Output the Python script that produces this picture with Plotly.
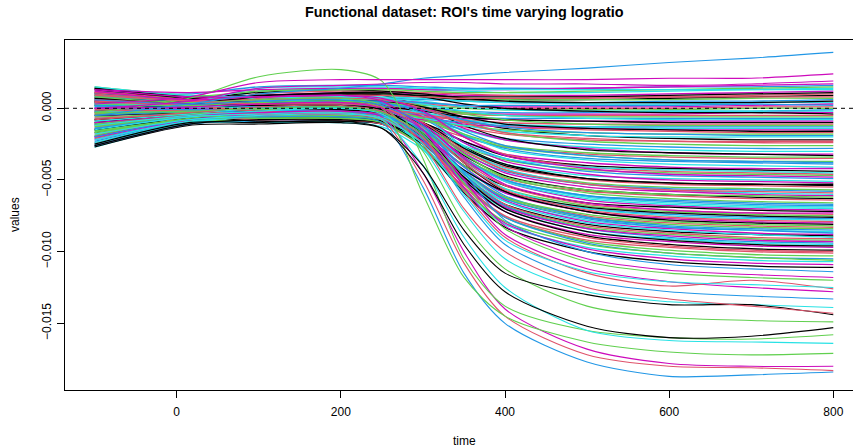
import plotly.graph_objects as go

# ---------------- data (values in units of 1e-4) ----------------
knot_times = [-100, 15, 100, 200, 250, 300, 350, 400, 500, 600, 700, 800]

outlier_curves = [
    [-5, 3, 10, 14, 17, 21, 23, 25, 28, 32, 35, 39],
    [3, 8, 18, 20, 20, 20, 20, 20, 20, 21, 21, 24],
    [0, 5, 14, 16, 17, 18, 18, 17, 17, 16, 17, 19],
]

upper_curves = [
    [12, 10, 15, 16, 16, 15, 14, 14, 14, 15, 15, 16],
    [-5, 2, 12, 14, 14, 13, 12, 11, 11, 12, 13, 14],
    [8, 6, 9, 11, 11, 10, 9, 9, 9, 10, 11, 12],
    [-15, -4, 6, 9, 9, 8, 6, 6, 6, 7, 8, 9],
    [0, 3, 10, 12, 12, 11, 10, 9, 8, 8, 9, 10],
    [15, 9, 8, 10, 10, 9, 7, 6, 6, 6, 7, 7],
    [-20, -6, 4, 7, 7, 6, 5, 4, 4, 5, 5, 6],
    [5, 4, 7, 8, 8, 7, 5, 4, 3, 3, 4, 4],
    [-8, -2, 5, 6, 6, 4, 2, 1, 1, 1, 2, 3],
    [10, 7, 11, 13, 12, 10, 7, 5, 4, 4, 4, 5],
    [-25, -9, 2, 4, 4, 3, 1, 0, 0, 0, 1, 1],
    [3, 2, 3, 4, 4, 2, 0, -1, -1, -1, 0, 0],
    [-12, -5, 1, 3, 3, 1, -2, -3, -3, -2, -2, -1],
    [6, 3, 6, 8, 7, 5, 1, -1, -2, -2, -2, -2],
    [-3, -1, 0, 1, 1, -1, -3, -4, -4, -4, -3, -3],
    [14, 8, 9, 11, 11, 8, 3, 0, -2, -3, -3, -4],
    [-18, -7, -1, 0, 0, -2, -4, -5, -5, -5, -5, -5],
    [2, 1, 2, 3, 2, 0, -3, -5, -6, -6, -6, -6],
    [-7, -4, -3, -2, -2, -4, -6, -7, -7, -7, -7, -7],
    [9, 5, 5, 6, 6, 3, -2, -5, -7, -8, -8, -8],
    [-22, -9, -4, -3, -3, -5, -7, -8, -9, -9, -9, -9],
    [4, 2, 0, 1, 1, -2, -6, -8, -9, -10, -10, -10],
    [-10, -6, -5, -4, -4, -6, -8, -10, -11, -11, -11, -11],
    [7, 4, 3, 5, 4, 1, -4, -8, -11, -12, -12, -12],
    [-14, -8, -6, -5, -5, -7, -10, -12, -13, -13, -13, -13],
    [1, 0, -1, 0, 0, -3, -8, -11, -13, -14, -14, -14],
    [-26, -11, -7, -6, -6, -8, -11, -13, -14, -15, -15, -15],
    [11, 6, 4, 5, 5, 1, -6, -11, -14, -15, -16, -16],
    [-4, -3, -2, -1, -1, -4, -9, -13, -15, -16, -17, -17],
    [-16, -9, -8, -7, -7, -9, -12, -15, -17, -18, -18, -18],
    [6, 3, 2, 3, 3, -1, -8, -13, -17, -18, -19, -19],
    [-9, -6, -5, -4, -4, -7, -12, -16, -19, -20, -20, -20],
    [13, 11, 13, 14, 14, 13, 13, 13, 14, 15, 16, 17],
    [-2, 3, 8, 10, 10, 9, 8, 8, 8, 9, 10, 11],
    [-21, -5, 7, 9, 9, 8, 7, 7, 7, 8, 8, 8],
    [9, 8, 12, 13, 13, 12, 11, 11, 12, 13, 14, 15],
    [-11, -1, 3, 5, 5, 4, 2, 2, 2, 2, 3, 2],
    [2, 4, 14, 15, 15, 14, 13, 13, 13, 13, 13, 13],
]

mid_curves = [
    [5, 3, 5, 6, 5, 0, -8, -14, -19, -21, -22, -22],
    [-13, -6, -3, -2, -3, -6, -13, -18, -22, -23, -24, -24],
    [10, 6, 7, 8, 7, 1, -9, -17, -23, -25, -26, -26],
    [-19, -8, -4, -3, -4, -8, -15, -21, -25, -27, -28, -28],
    [3, 1, 0, 1, 0, -5, -15, -22, -27, -29, -30, -30],
    [-6, -1, 3, 4, 3, -3, -14, -22, -28, -31, -32, -32],
    [14, 8, 9, 10, 9, 1, -12, -21, -29, -31, -32, -33],
    [-24, -10, -6, -5, -6, -11, -20, -27, -32, -34, -35, -35],
    [1, 0, -1, -1, -2, -8, -19, -27, -33, -36, -37, -37],
    [-11, -4, 1, 2, 1, -6, -19, -28, -35, -37, -38, -39],
    [7, 4, 4, 5, 4, -4, -18, -29, -36, -39, -40, -41],
    [-2, -2, -4, -4, -5, -12, -23, -32, -38, -41, -42, -42],
    [-17, -7, -3, -2, -3, -10, -23, -33, -40, -42, -43, -44],
    [12, 7, 6, 7, 5, -4, -20, -32, -41, -44, -45, -46],
    [-8, -5, -6, -6, -7, -14, -27, -36, -43, -45, -46, -47],
    [4, 3, 2, 3, 1, -7, -24, -35, -44, -47, -48, -49],
    [-27, -11, -8, -7, -8, -16, -29, -39, -47, -49, -50, -51],
    [0, 2, 4, 5, 3, -6, -24, -37, -46, -50, -51, -52],
    [9, 5, 1, 1, -1, -10, -27, -39, -49, -52, -53, -54],
    [-14, -6, -3, -3, -5, -13, -30, -41, -50, -53, -54, -55],
    [5, 2, -1, -1, -3, -12, -30, -43, -52, -55, -56, -57],
    [-21, -9, -5, -5, -7, -16, -32, -44, -53, -56, -57, -58],
    [15, 9, 8, 9, 7, -5, -27, -42, -53, -57, -59, -60],
    [-4, -2, 0, 0, -2, -12, -31, -45, -55, -58, -60, -61],
    [2, 0, -3, -3, -5, -15, -33, -47, -57, -60, -62, -63],
    [-9, -5, -8, -8, -10, -19, -36, -49, -58, -61, -63, -64],
    [8, 5, 2, 3, 1, -11, -32, -48, -59, -63, -65, -66],
    [-23, -9, -4, -4, -6, -17, -37, -50, -61, -64, -66, -67],
    [-1, -1, 1, 1, -1, -13, -34, -50, -62, -66, -68, -69],
    [11, 6, 3, 4, 2, -11, -34, -51, -64, -68, -70, -71],
    [-15, -7, -6, -6, -8, -19, -40, -54, -66, -69, -71, -72],
    [6, 3, 0, 0, -2, -15, -37, -54, -67, -71, -73, -74],
    [-6, -4, -5, -5, -7, -19, -40, -56, -68, -72, -74, -75],
    [-26, -11, -9, -9, -11, -23, -43, -59, -70, -74, -76, -77],
    [3, 2, 2, 2, 0, -14, -38, -56, -70, -75, -77, -78],
    [-11, -5, -2, -2, -4, -18, -41, -59, -72, -77, -79, -80],
    [13, 7, 4, 5, 2, -12, -38, -58, -72, -78, -80, -81],
    [-3, -2, -4, -4, -6, -20, -44, -62, -75, -80, -82, -83],
    [-19, -8, -7, -7, -9, -22, -46, -63, -76, -81, -83, -84],
    [1, 1, 3, 3, 0, -15, -41, -61, -76, -82, -84, -85],
    [-25, -10, -6, -6, -9, -24, -48, -65, -78, -83, -85, -86],
    [7, 4, 1, 1, -2, -17, -44, -64, -79, -84, -87, -88],
    [-8, -5, -9, -9, -11, -25, -49, -67, -81, -86, -88, -89],
    [4, 2, -1, -1, -4, -19, -46, -67, -82, -87, -90, -91],
    [-13, -6, -4, -4, -7, -22, -48, -68, -83, -88, -91, -92],
    [10, 5, 2, 2, -1, -17, -46, -68, -84, -90, -93, -94],
    [-2, -2, -3, -3, -6, -21, -50, -70, -86, -91, -94, -95],
    [-20, -8, -5, -5, -8, -23, -52, -72, -88, -93, -96, -97],
    [5, 3, 0, 0, -3, -20, -50, -72, -89, -95, -98, -99],
    [-7, -5, -8, -8, -11, -27, -55, -76, -92, -97, -100, -101],
    [-16, -7, -3, -3, -6, -23, -53, -76, -93, -99, -102, -103],
    [8, 4, 1, 1, -2, -20, -52, -76, -94, -101, -104, -105],
    [-24, -10, -10, -10, -13, -29, -58, -81, -97, -103, -106, -107],
    [0, 0, -2, -2, -5, -23, -56, -80, -98, -105, -108, -109],
    [-10, -5, -6, -6, -9, -27, -59, -83, -100, -107, -110, -111],
    [6, 4, 6, 7, 6, 0, -10, -17, -21, -23, -23, -23],
    [-12, -5, -1, 0, -1, -7, -18, -26, -31, -33, -34, -34],
    [2, 2, 4, 5, 4, -3, -16, -26, -33, -36, -37, -38],
    [-22, -9, -6, -5, -6, -13, -26, -35, -41, -43, -44, -45],
    [13, 8, 8, 9, 7, -2, -20, -33, -42, -46, -47, -48],
    [-5, -3, -2, -1, -3, -11, -28, -40, -49, -52, -53, -53],
    [9, 5, 2, 2, 0, -10, -29, -43, -53, -57, -58, -59],
    [-17, -8, -6, -5, -7, -17, -35, -48, -57, -60, -61, -62],
    [0, -1, -3, -3, -5, -15, -35, -50, -61, -65, -67, -68],
    [-9, -4, 0, 1, -1, -13, -35, -51, -63, -67, -69, -70],
    [5, 3, 3, 4, 2, -11, -35, -53, -66, -71, -73, -73],
    [-26, -11, -8, -8, -10, -22, -43, -58, -69, -73, -75, -76],
    [11, 6, 3, 3, 1, -13, -38, -57, -71, -76, -78, -79],
    [-4, -3, -6, -6, -8, -21, -45, -62, -74, -79, -81, -82],
    [-14, -6, -2, -2, -5, -19, -44, -63, -77, -83, -85, -87],
    [3, 2, 0, 0, -3, -18, -45, -65, -80, -85, -88, -90],
    [-20, -8, -4, -4, -7, -22, -49, -69, -84, -89, -92, -93],
    [7, 4, 2, 2, -1, -18, -48, -70, -86, -92, -95, -96],
    [-1, -2, -4, -4, -7, -24, -53, -75, -90, -96, -99, -100],
    [-11, -5, -7, -7, -10, -27, -57, -79, -95, -101, -104, -106],
]

deep_curves = [
    [-20, -8, -6, -6, -10, -55, -115, -150, -177, -187, -186, -184],
    [5, 2, -2, -3, -8, -50, -108, -145, -172, -180, -181, -183],
    [-10, -5, -3, -2, -6, -45, -100, -140, -168, -178, -180, -180],
    [-3, 7, 22, 27, 19, -35, -105, -138, -155, -160, -161, -158],
    [-15, -6, -4, -3, -8, -40, -90, -125, -155, -162, -163, -164],
    [3, 2, 4, 5, 0, -60, -118, -145, -163, -170, -172, -171],
    [-25, -10, -10, -9, -14, -45, -95, -128, -152, -160, -159, -153],
    [8, 4, 6, 7, 2, -30, -80, -112, -138, -146, -148, -149],
    [-12, -5, -2, 0, -4, -28, -72, -105, -128, -135, -137, -139],
    [-27, -12, -11, -10, -14, -40, -85, -115, -130, -137, -137, -144],
    [10, 5, 3, 4, 0, -25, -70, -100, -125, -133, -138, -143],
    [-5, -2, 0, 1, -3, -22, -62, -95, -120, -128, -131, -133],
    [12, 6, 8, 9, 5, -15, -55, -88, -112, -121, -125, -128],
    [-8, -3, 1, 2, -2, -20, -58, -90, -115, -124, -120, -126],
    [-18, -8, -5, -4, -7, -25, -60, -92, -114, -121, -123, -125],
    [0, 1, 3, 4, 0, -15, -50, -82, -105, -113, -116, -118],
    [6, 3, 5, 6, 2, -12, -45, -78, -100, -109, -112, -114],
    [-3, -2, 0, 1, -3, -18, -52, -84, -107, -115, -118, -120],
]

value_scale = 1e-4
x_tick_vals = [0, 200, 400, 600, 800]
y_tick_vals = [0.0, -0.005, -0.010, -0.015]
y_tick_text = ["0.000", "\u22120.005", "\u22120.010", "\u22120.015"]
title_text = "Functional dataset: ROI's time varying logratio"
x_label = "time"
y_label = "values"

# ---------------- style ----------------
r_palette = ["#000000", "#DF536B", "#61D04F", "#2297E6", "#28E2E5", "#CD0BBC"]
deep_colors = ["#2297E6", "#DF536B", "#CD0BBC", "#61D04F", "#28E2E5", "#61D04F",
               "#000000", "#61D04F", "#28E2E5", "#000000", "#DF536B", "#2297E6",
               "#CD0BBC", "#DF536B", "#28E2E5", "#CD0BBC", "#2297E6", "#61D04F"]
outlier_colors = ["#2297E6", "#CD0BBC", "#CD0BBC"]

W, H = 853, 448
ML, MR, MT, MB = 65, 0, 40, 58
PW, PH = W - ML - MR, H - MT - MB
FONT = "Liberation Sans, Arial, Helvetica, sans-serif"


def px_x(p):
    return (p - ML) / PW


def px_y(p):
    return (H - MB - p) / PH


fig = go.Figure()

# interleave the main band curves so colours and drawing order mix like matplot
band = []
for i in range(len(mid_curves)):
    band.append((mid_curves[i], r_palette[i % 6]))
    if i < len(upper_curves):
        band.append((upper_curves[i], r_palette[(i + 3) % 6]))

LW = 1.3
for c, col in band:
    fig.add_trace(go.Scatter(
        x=knot_times, y=[v * value_scale for v in c], mode="lines",
        line=dict(color=col, width=LW, shape="spline", smoothing=0.8),
        hoverinfo="skip", showlegend=False))

for c, col in zip(deep_curves, deep_colors):
    fig.add_trace(go.Scatter(
        x=knot_times, y=[v * value_scale for v in c], mode="lines",
        line=dict(color=col, width=1.1, shape="spline", smoothing=0.8),
        hoverinfo="skip", showlegend=False))

for c, col in zip(outlier_curves, outlier_colors):
    fig.add_trace(go.Scatter(
        x=knot_times, y=[v * value_scale for v in c], mode="lines",
        line=dict(color=col, width=1.1, shape="spline", smoothing=0.8),
        hoverinfo="skip", showlegend=False))

fig.add_shape(type="line", xref="paper", yref="y", x0=0, x1=1, y0=0, y1=0,
              line=dict(color="black", width=1, dash="4px,4px"), layer="above")

fig.update_layout(
    width=W, height=H,
    margin=dict(l=ML, r=MR, t=MT, b=MB, pad=0),
    paper_bgcolor="white", plot_bgcolor="white",
    font=dict(family=FONT, size=12, color="black"),
    showlegend=False,
    hovermode=False,
    xaxis=dict(range=[-136.1, 824.0], tickvals=x_tick_vals,
               ticks="outside", ticklen=7, tickwidth=1, tickcolor="black",
               showline=True, linecolor="black", linewidth=1, mirror=True,
               showgrid=False, zeroline=False, ticklabelstandoff=4,
               tickfont=dict(size=12, color="black", family=FONT)),
    yaxis=dict(range=[-0.019653, 0.004765], tickvals=y_tick_vals, ticktext=y_tick_text,
               tickangle=-90, ticks="outside", ticklen=7, tickwidth=1, tickcolor="black",
               showline=True, linecolor="black", linewidth=1, mirror=False,
               showgrid=False, zeroline=False, ticklabelstandoff=1,
               tickfont=dict(size=12, color="black", family=FONT)),
    annotations=[
        dict(text="<b>" + title_text + "</b>", xref="paper", yref="paper",
             x=px_x(464), y=px_y(12), xanchor="center", yanchor="middle",
             showarrow=False, font=dict(size=14.4, family=FONT, color="black")),
        dict(text=x_label, xref="paper", yref="paper",
             x=px_x(464), y=px_y(441), xanchor="center", yanchor="middle",
             showarrow=False, font=dict(size=12, family=FONT, color="black")),
        dict(text=y_label, xref="paper", yref="paper", textangle=-90,
             x=px_x(15), y=px_y(215), xanchor="center", yanchor="middle",
             showarrow=False, font=dict(size=12, family=FONT, color="black")),
    ],
)

fig.write_html("out.html", config={"displayModeBar": False},
               post_script="document.body.style.margin='0';"
                           "document.body.style.overflow='hidden';")
